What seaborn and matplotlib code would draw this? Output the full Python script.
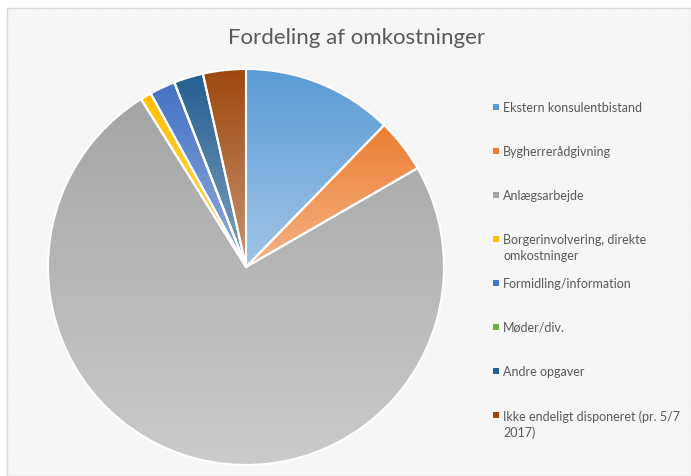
import numpy as np
import matplotlib
matplotlib.use("Agg")
import matplotlib.pyplot as plt
import matplotlib.colors as mcolors
from matplotlib.patches import Rectangle
import seaborn as sns

# Data: Fordeling af omkostninger (shares in %)
categories = [
    "Ekstern konsulentbistand",
    "Bygherrerådgivning",
    "Anlægsarbejde",
    "Borgerinvolvering, direkte\nomkostninger",
    "Formidling/information",
    "Møder/div.",
    "Andre opgaver",
    "Ikke endeligt disponeret (pr. 5/7\n2017)",
]
shares = [12.3, 4.4, 74.5, 0.9, 2.1, 0.0, 2.4, 3.5]
colors = ["#5B9BD5", "#ED7D31", "#A5A5A5", "#FFC000",
          "#4472C4", "#70AD47", "#255E91", "#9E480E"]

sns.set_theme(style="white")
plt.rcParams["font.family"] = ["Lato", "DejaVu Sans"]
palette = sns.color_palette(colors)
text_color = "#595959"

W, H = 691, 477
fig = plt.figure(figsize=(W / 100, H / 100), dpi=100)
fig.patch.set_facecolor("white")

# chart area: faint fine diagonal pattern with thin border
plt.rcParams["hatch.linewidth"] = 0.5
bg = Rectangle((7 / W, 0), 1 - 7 / W, 1 - 9 / H, transform=fig.transFigure,
               facecolor="white", edgecolor="#EBEBEB", hatch="\\" * 14, lw=0, zorder=-2)
fig.patches.append(bg)
border = Rectangle((7 / W, 0), 1 - 7 / W, 1 - 9 / H, transform=fig.transFigure,
                   facecolor="none", edgecolor="#D9D9D9", lw=1, zorder=-1)
fig.patches.append(border)

# pie axes: center (246, 268) px, radius 198 px
cx, cy, r = 246, 268, 198
ax = fig.add_axes([(cx - r) / W, (H - cy - r) / H, 2 * r / W, 2 * r / H])
ax.set_zorder(1)
ax.axis("off")

wedges, _ = ax.pie(shares, colors=palette, startangle=90, counterclock=False,
                   radius=1, wedgeprops=dict(edgecolor="white", linewidth=1.5))

# Excel-style vertical gradient in each slice: darker on top, lighter below
for w, c in zip(wedges, palette):
    if w.theta2 - w.theta1 <= 0:
        continue
    ext = w.get_path().get_extents(w.get_patch_transform())
    dark = np.array(mcolors.to_rgb(c))
    light = dark + (1 - dark) * 0.42
    t = np.linspace(0, 1, 256)[:, None]
    grad = (1 - t) * light + t * dark  # row 0 = bottom (origin lower)
    img = np.repeat(grad[:, None, :], 2, axis=1)
    im = ax.imshow(img, extent=[ext.x0, ext.x1, ext.y0, ext.y1], origin="lower",
                   aspect="auto", zorder=w.get_zorder() - 0.1, interpolation="bilinear")
    im.set_clip_path(w)
    w.set_facecolor("none")
ax.set_xlim(-1, 1)
ax.set_ylim(-1, 1)

fig.text(357 / W, 1 - 38 / H, "Fordeling af omkostninger", ha="center", va="center",
         fontsize=16, color=text_color)

# legend on the right, one slot every 44 px
for i, (lab, c) in enumerate(zip(categories, palette)):
    y = 108 + 44 * i
    fig.patches.append(Rectangle((493 / W, 1 - (y + 3) / H), 6 / W, 6 / H,
                                 transform=fig.transFigure, facecolor=c, lw=0))
    fig.text(503 / W, 1 - (y - 6) / H, lab, ha="left", va="top", fontsize=9,
             color=text_color, linespacing=1.35)

fig.savefig("out.png", dpi=100)
